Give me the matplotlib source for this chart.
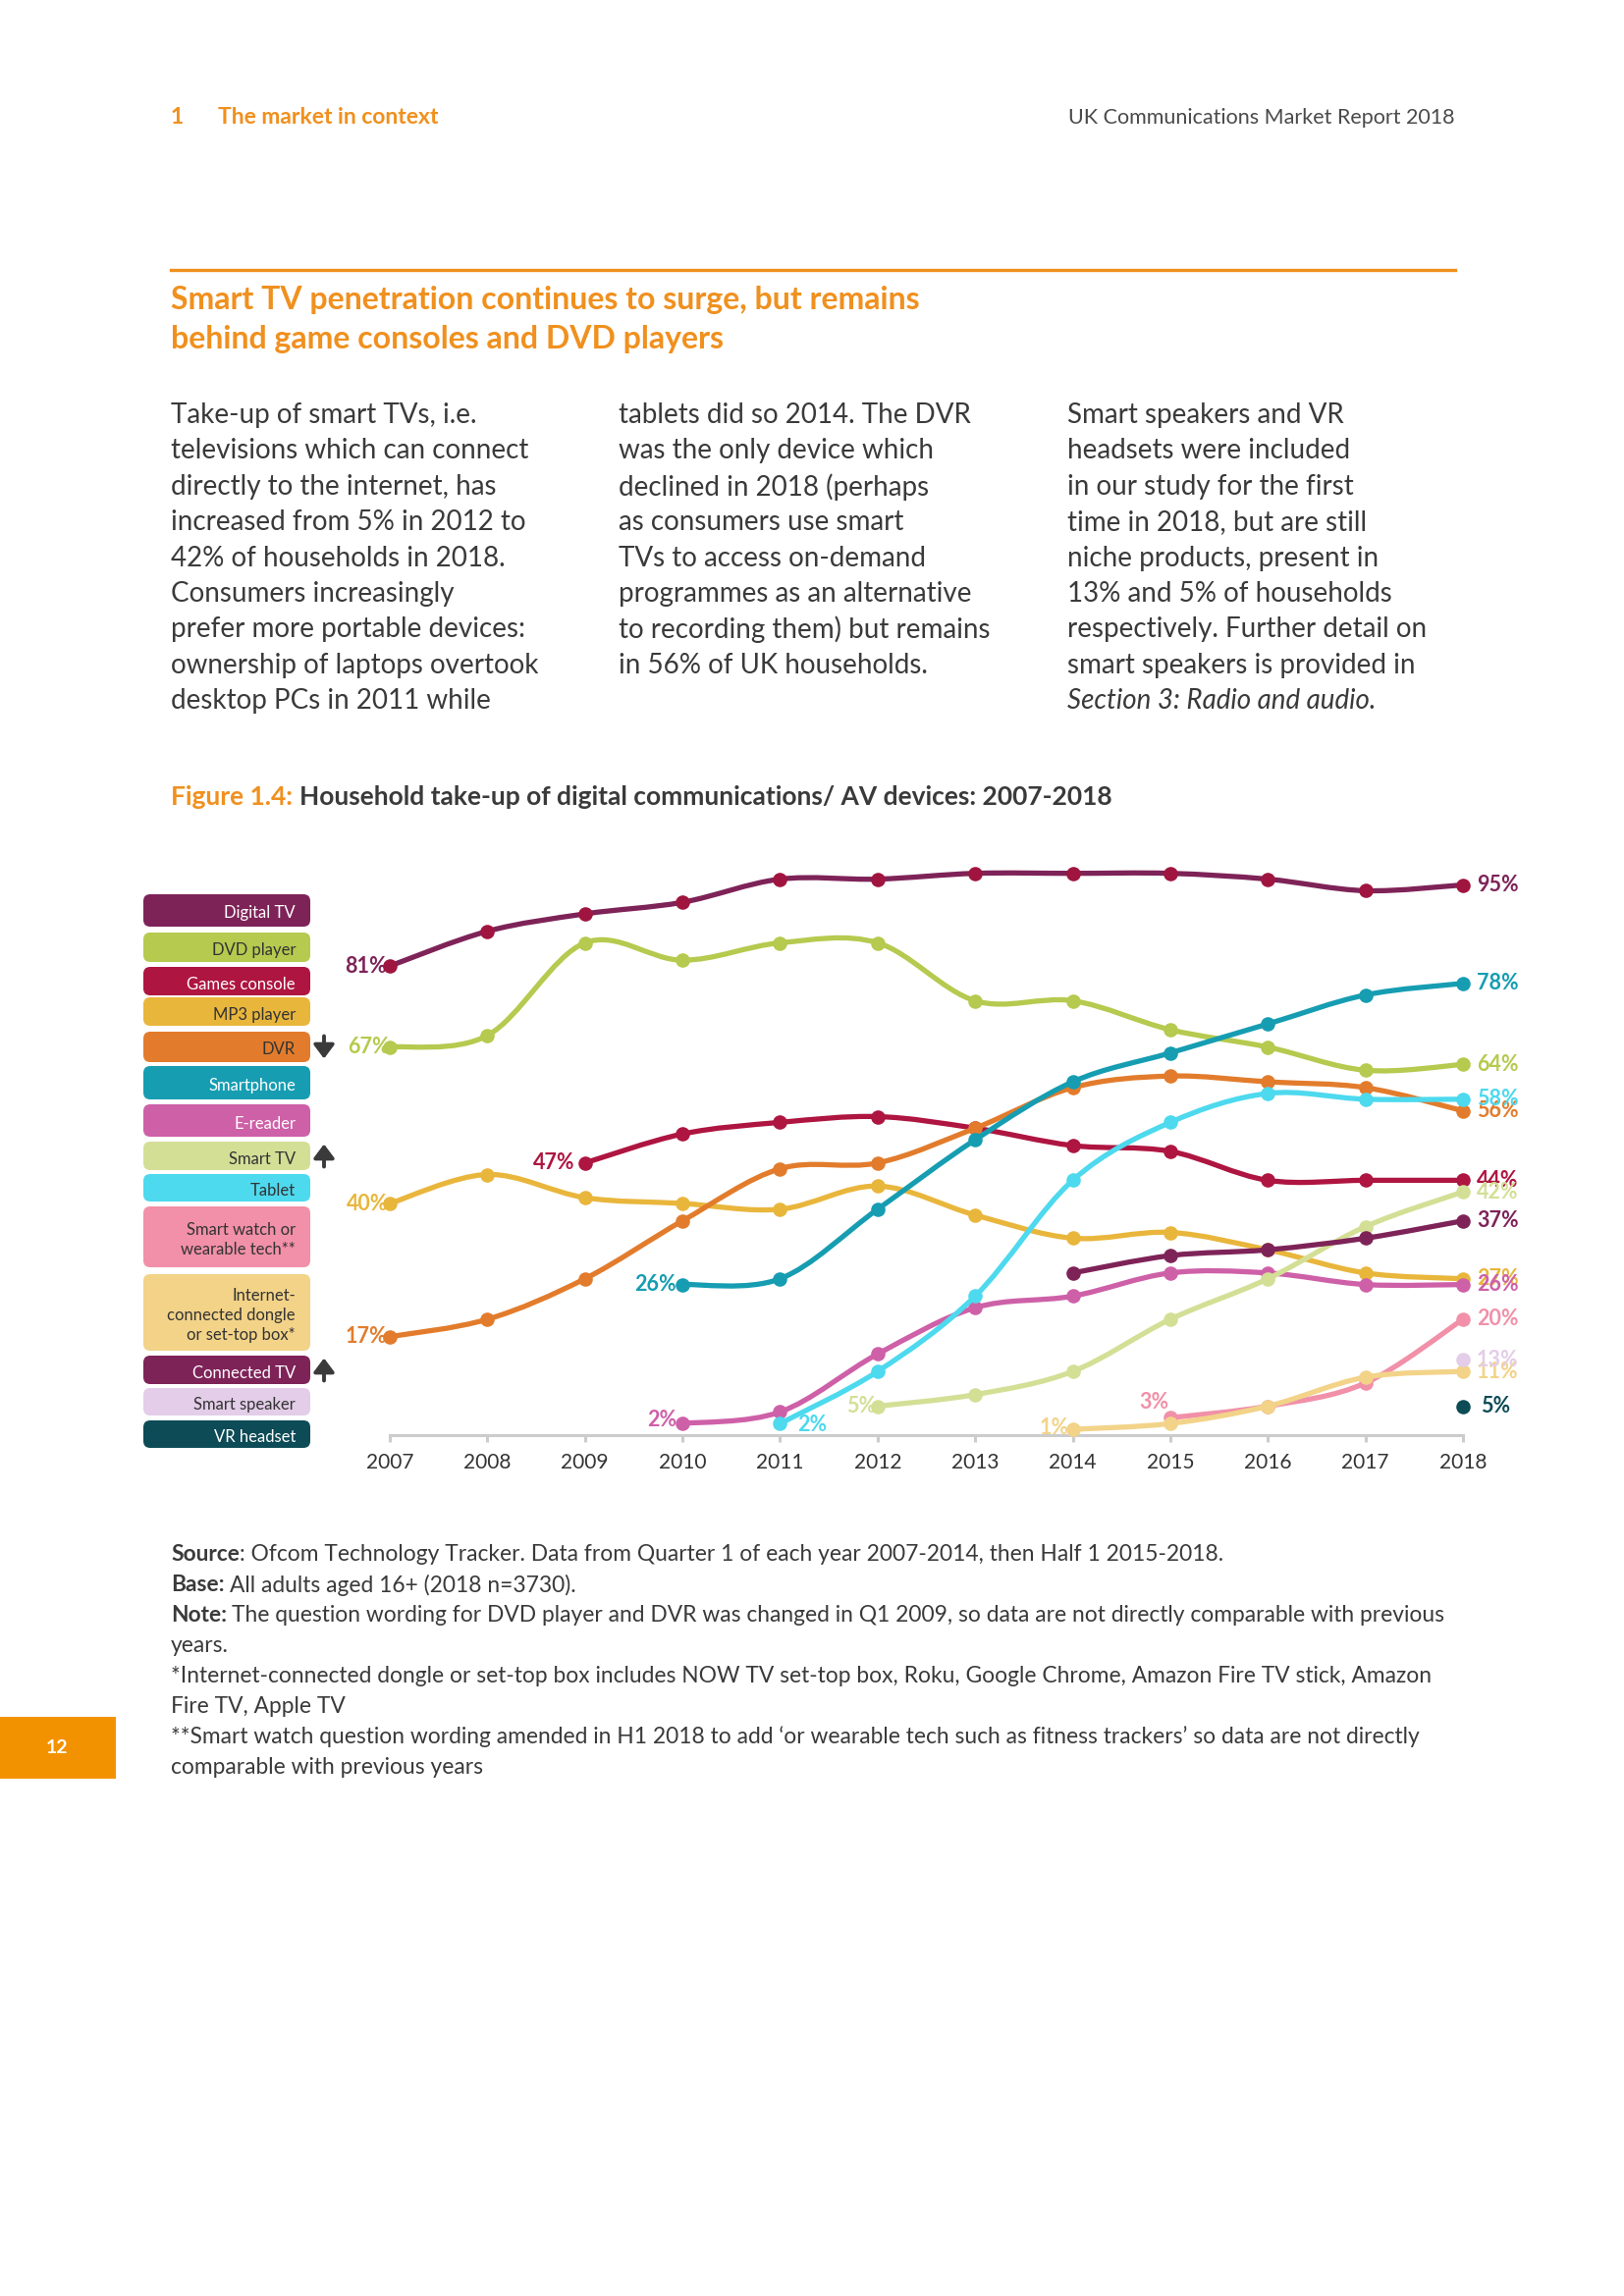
import numpy as np
import matplotlib.pyplot as plt
from matplotlib.path import Path
from matplotlib.patches import PathPatch, FancyBboxPatch, Rectangle

plt.rcParams['font.family'] = ['Lato', 'DejaVu Sans']

W, H = 1654, 2339
PT = 0.72  # points per pixel at dpi=100

nan = np.nan
years = list(range(2007, 2019))

digital_tv    = [81, 87, 90, 92, 96, 96, 97, 97, 97, 96, 94, 95]
dvd_player    = [67, 69, 85, 82, 85, 85, 75, 75, 70, 67, 63, 64]
games_console = [nan, nan, 47, 52, 54, 55, 53, 50, 49, 44, 44, 44]
mp3_player    = [40, 45, 41, 40, 39, 43, 38, 34, 35, 32, 28, 27]
dvr           = [17, 20, 27, 37, 46, 47, 53, 60, 62, 61, 60, 56]
smartphone    = [nan, nan, nan, 26, 27, 39, 51, 61, 66, 71, 76, 78]
e_reader      = [nan, nan, nan, 2, 4, 14, 22, 24, 28, 28, 26, 26]
smart_tv      = [nan, nan, nan, nan, nan, 5, 7, 11, 20, 27, 36, 42]
tablet        = [nan, nan, nan, nan, 2, 11, 24, 44, 54, 59, 58, 58]
smart_watch   = [nan, nan, nan, nan, nan, nan, nan, nan, 3, 5, 9, 20]
dongle        = [nan, nan, nan, nan, nan, nan, nan, 1, 2, 5, 10, 11]
connected_tv  = [nan, nan, nan, nan, nan, nan, nan, 28, 31, 32, 34, 37]
smart_speaker = [nan, nan, nan, nan, nan, nan, nan, nan, nan, nan, nan, 13]
vr_headset    = [nan, nan, nan, nan, nan, nan, nan, nan, nan, nan, nan, 5]

legend_labels = ['Digital TV', 'DVD player', 'Games console', 'MP3 player', 'DVR',
                 'Smartphone', 'E-reader', 'Smart TV', 'Tablet',
                 'Smart watch or\nwearable tech**',
                 'Internet-\nconnected dongle\nor set-top box*',
                 'Connected TV', 'Smart speaker', 'VR headset']
values = [digital_tv, dvd_player, games_console, mp3_player, dvr, smartphone,
          e_reader, smart_tv, tablet, smart_watch, dongle, connected_tv,
          smart_speaker, vr_headset]

# style per series: line colour, marker colour, label colour, legend text colour
styles = [
    ('#7E2358', '#A0153F', '#7E2358', 'white'),
    ('#B5CA4E', '#B5CA4E', '#B5CA4E', '#333333'),
    ('#AE1540', '#AE1540', '#AE1540', 'white'),
    ('#E9B63C', '#E9B63C', '#E9B63C', '#333333'),
    ('#E27C2C', '#E27C2C', '#E27C2C', '#333333'),
    ('#169DB2', '#169DB2', '#169DB2', 'white'),
    ('#CE60A8', '#CE60A8', '#CE60A8', 'white'),
    ('#D4DF96', '#D4DF96', '#D4DF96', '#333333'),
    ('#4DD9EE', '#4DD9EE', '#4DD9EE', '#333333'),
    ('#F190A8', '#F190A8', '#F190A8', '#333333'),
    ('#F2D388', '#F2D388', '#F2D388', '#333333'),
    ('#7E2358', '#7E2358', '#7E2358', 'white'),
    ('#E3CDE8', '#E3CDE8', '#E3CDE8', '#333333'),
    ('#0D4B56', '#0D4B56', '#0D4B56', 'white'),
]

# first-value label placement (dx, dy in px, ha); None = no start label
start_labels = [(-3, 0, 'right'), (0, 0, 'right'), (-10, 0, 'right'), (-2, 0, 'right'),
                (-3, 0, 'right'), (-6, 0, 'right'), (-6, 4, 'right'), (-2, 0, 'right'),
                (18, -1, 'left'), (-1, 16, 'right'), (-4, 2, 'right'),
                None, None, None]

legend_boxes = [(911, 944), (950, 980), (985, 1014), (1016, 1045), (1051, 1082),
                (1086, 1120), (1125, 1158), (1163, 1192), (1196, 1224),
                (1229, 1291), (1298, 1376), (1381, 1410), (1414, 1442), (1447, 1475)]
arrows = {4: 'down', 7: 'up', 11: 'up'}

ORANGE = '#F0901E'
DARK = '#3A3A3A'


def smooth_path(xs, ys):
    # Excel-style smoothed line: Catmull-Rom as cubic Bezier segments
    n = len(xs)
    verts = [(xs[0], ys[0])]
    codes = [Path.MOVETO]
    for i in range(n - 1):
        xa, ya = (xs[i - 1], ys[i - 1]) if i > 0 else (xs[i], ys[i])
        xd, yd = (xs[i + 2], ys[i + 2]) if i + 2 < n else (xs[i + 1], ys[i + 1])
        c1 = (xs[i] + (xs[i + 1] - xa) / 6, ys[i] + (ys[i + 1] - ya) / 6)
        c2 = (xs[i + 1] - (xd - xs[i]) / 6, ys[i + 1] - (yd - ys[i]) / 6)
        verts += [c1, c2, (xs[i + 1], ys[i + 1])]
        codes += [Path.CURVE4] * 3
    return Path(verts, codes)


fig = plt.figure(figsize=(W / 100, H / 100), dpi=100)

# page overlay in pixel coordinates (y down)
ov = fig.add_axes([0, 0, 1, 1], zorder=0)
ov.set_xlim(0, W)
ov.set_ylim(H, 0)
ov.axis('off')

ov.text(174, 120, '1', color=ORANGE, fontsize=16.5, fontweight='bold', va='center')
ov.text(222, 120, 'The market in context', color=ORANGE, fontsize=16.5,
        fontweight='bold', va='center')
ov.text(1482, 120, 'UK Communications Market Report 2018', color='#4A4A4A',
        fontsize=15.5, va='center', ha='right')
ov.plot([174, 1482], [274.5, 274.5], color=ORANGE, lw=2.4)
ov.text(174, 306, 'Smart TV penetration continues to surge, but remains',
        color=ORANGE, fontsize=23, fontweight='bold', va='center')
ov.text(174, 346, 'behind game consoles and DVD players',
        color=ORANGE, fontsize=23, fontweight='bold', va='center')

col1 = ['Take-up of smart TVs, i.e.', 'televisions which can connect',
        'directly to the internet, has', 'increased from 5% in 2012 to',
        '42% of households in 2018.', 'Consumers increasingly',
        'prefer more portable devices:', 'ownership of laptops overtook',
        'desktop PCs in 2011 while']
col2 = ['tablets did so 2014. The DVR', 'was the only device which',
        'declined in 2018 (perhaps', 'as consumers use smart',
        'TVs to access on-demand', 'programmes as an alternative',
        'to recording them) but remains', 'in 56% of UK households.']
col3 = ['Smart speakers and VR', 'headsets were included',
        'in our study for the first', 'time in 2018, but are still',
        'niche products, present in', '13% and 5% of households',
        'respectively. Further detail on', 'smart speakers is provided in']
for cx, lines in [(174, col1), (630, col2), (1087, col3)]:
    for i, line in enumerate(lines):
        ov.text(cx, 423 + i * 36.4, line, color=DARK, fontsize=20,
                va='center')
ov.text(1087, 423 + 8 * 36.4, 'Section 3: Radio and audio.', color=DARK,
        fontsize=20, style='italic', va='center')

renderer = fig.canvas.get_renderer()


def rich(x, y, parts, size, gap=0):
    for txt, props in parts:
        t = ov.text(x, y, txt, fontsize=size, va='center', **props)
        x += t.get_window_extent(renderer).width + gap


rich(174, 811.5, [('Figure 1.4:', dict(color=ORANGE, fontweight='bold')),
                  ('Household take-up of digital communications/ AV devices: 2007-2018',
                   dict(color=DARK, fontweight='bold'))], 19, gap=7)

light = dict(color=DARK)
bold = dict(color=DARK, fontweight='bold')
notes = [
    [('Source', bold), (': Ofcom Technology Tracker. Data from Quarter 1 of each year 2007-2014, then Half 1 2015-2018.', light)],
    [('Base:', bold), (' All adults aged 16+ (2018 n=3730).', light)],
    [('Note:', bold), (' The question wording for DVD player and DVR was changed in Q1 2009, so data are not directly comparable with previous', light)],
    [('years.', light)],
    [('*Internet-connected dongle or set-top box includes NOW TV set-top box, Roku, Google Chrome, Amazon Fire TV stick, Amazon', light)],
    [('Fire TV, Apple TV', light)],
    [('**Smart watch question wording amended in H1 2018 to add \u2018or wearable tech such as fitness trackers\u2019 so data are not directly', light)],
    [('comparable with previous years', light)],
]
for i, parts in enumerate(notes):
    gap = 5 if len(parts) > 1 and parts[1][0].startswith(' ') else 0
    parts = [(p.lstrip(), s) for p, s in parts]
    rich(174, 1584 + i * 30.9, parts, 16.4, gap=gap)

ov.add_patch(Rectangle((0, 1749), 118, 63, color='#F39200', lw=0))
ov.text(58, 1781, '12', color='white', fontsize=14, fontweight='bold',
        ha='center', va='center')

# legend boxes
for i, (lab, (top, bot)) in enumerate(zip(legend_labels, legend_boxes)):
    ov.add_patch(FancyBboxPatch((146, top), 170, bot - top,
                                boxstyle='round,pad=0,rounding_size=7',
                                fc=styles[i][0], ec='none'))
    ov.text(301, (top + bot) / 2 + 3, lab, ha='right', va='center',
            color=styles[i][3], fontsize=12, linespacing=1.3,
            multialignment='right')
    if i in arrows:
        cy = (top + bot) / 2
        tip, tail = (cy + 12, cy - 11) if arrows[i] == 'down' else (cy - 12, cy + 11)
        ov.annotate('', xy=(330, tip), xytext=(330, tail),
                    arrowprops=dict(arrowstyle='-|>,head_width=0.45,head_length=0.6',
                                    color='#3A3A3A', lw=2.8, mutation_scale=14,
                                    shrinkA=0, shrinkB=0))

# chart
ax = fig.add_axes([397 / W, 1 - 1462 / H, 1093 / W, 590 / H], zorder=1)
ax.set_facecolor('none')
for i, vals in enumerate(values):
    line_c, mark_c, lab_c, _ = styles[i]
    z = 3 + i
    pts = [(x, v) for x, v in zip(years, vals) if not np.isnan(v)]
    xs = [p[0] for p in pts]
    ys = [p[1] for p in pts]
    if len(pts) > 1:
        ax.add_patch(PathPatch(smooth_path(xs, ys), fc='none', ec=line_c, lw=3.8,
                               capstyle='round', joinstyle='round', zorder=z,
                               clip_on=False))
    ax.plot(xs, ys, 'o', ms=10.5, color=mark_c, mec='none', zorder=z + 0.5,
            clip_on=False)
    lab_kw = dict(color=lab_c, fontsize=15.5, fontweight='bold', va='center',
                  textcoords='offset points', annotation_clip=False)
    if start_labels[i] is not None:
        dx, dy, ha = start_labels[i]
        ax.annotate(f'{ys[0]:.0f}%', (xs[0], ys[0]), xytext=(dx * PT, dy * PT),
                    ha=ha, zorder=2, **lab_kw)
    dx_end = 18 if i == 13 else 14
    ax.annotate(f'{ys[-1]:.0f}%', (xs[-1], ys[-1]), xytext=(dx_end * PT, 0),
                ha='left', zorder=2, **lab_kw)

ax.set_xlim(2007, 2018)
ax.set_ylim(0, 100)
for s in ['left', 'right', 'top']:
    ax.spines[s].set_visible(False)
ax.spines['bottom'].set_color('#CCCCCC')
ax.spines['bottom'].set_linewidth(2.2)
ax.set_yticks([])
ax.set_xticks(years)
ax.set_xticklabels([str(y) for y in years])
ax.tick_params(axis='x', direction='out', length=5, width=2.2, color='#CCCCCC',
               labelcolor='#333333', labelsize=15, pad=8)

fig.savefig('out.png', dpi=100)
